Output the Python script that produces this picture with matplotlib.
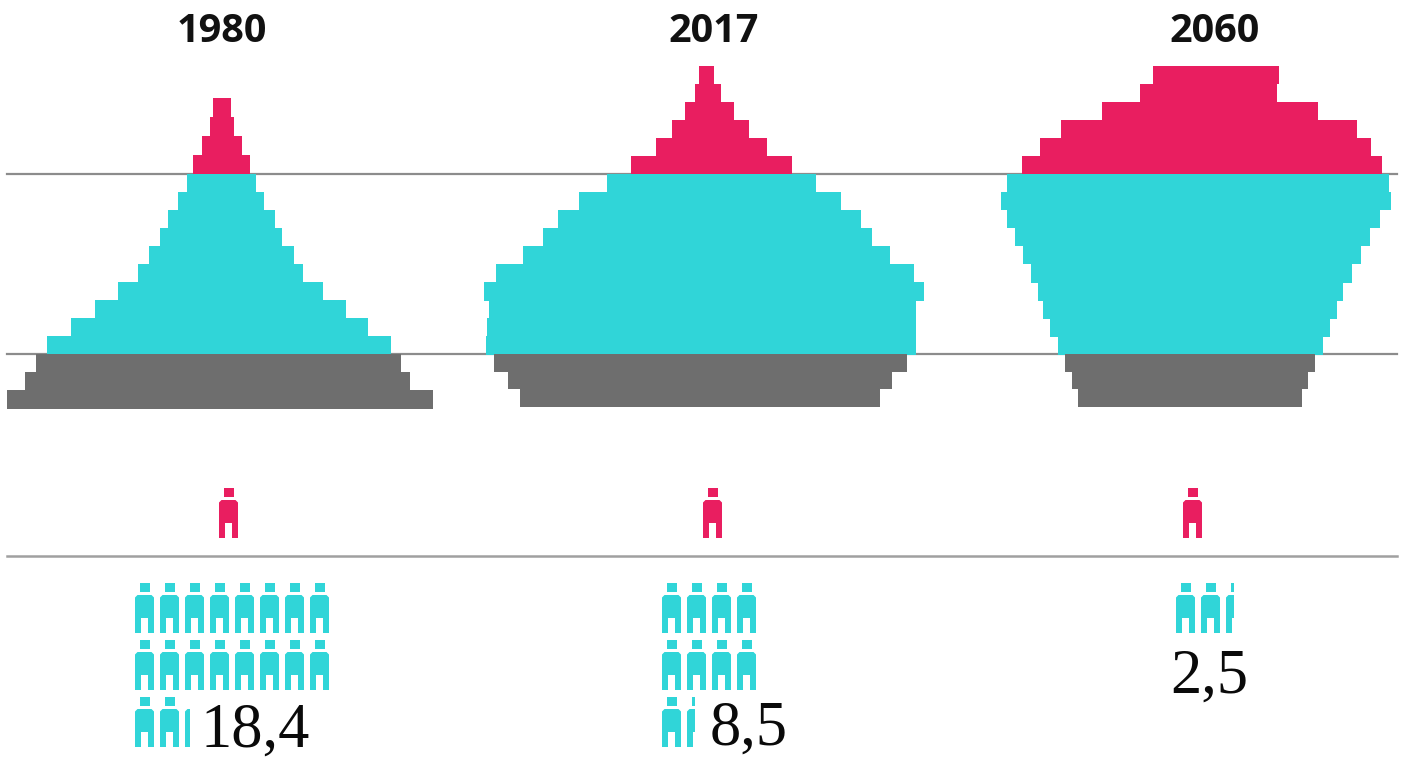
import matplotlib
matplotlib.use("Agg")
import matplotlib.pyplot as plt
from matplotlib.patches import PathPatch, Rectangle
from matplotlib.path import Path

years = ["1980", "2017", "2060"]
ratios = ["18,4", "8,5", "2,5"]

# left / right edges of every age row, top row first
old_left_1980 = [213, 210, 202, 193]
old_right_1980 = [231, 234, 242, 250]
work_left_1980 = [187, 178, 168, 160, 149, 138, 118, 95, 71, 47]
work_right_1980 = [256, 264, 275, 282, 294, 303, 323, 346, 368, 391]
young_left_1980 = [36, 25, 7]
young_right_1980 = [401, 410, 433]

old_left_2017 = [699, 695, 685, 672, 656, 631]
old_right_2017 = [714, 721, 734, 749, 767, 792]
work_left_2017 = [607, 579, 558, 543, 523, 496, 484, 489, 487, 486]
work_right_2017 = [816, 841, 861, 872, 890, 914, 924, 916, 916, 916]
young_left_2017 = [494, 508, 520]
young_right_2017 = [907, 892, 880]

old_left_2060 = [1153, 1140, 1102, 1061, 1040, 1022]
old_right_2060 = [1279, 1277, 1318, 1357, 1371, 1382]
work_left_2060 = [1007, 1001, 1007, 1015, 1023, 1031, 1038, 1043, 1050, 1058]
work_right_2060 = [1389, 1391, 1380, 1370, 1361, 1352, 1343, 1337, 1330, 1323]
young_left_2060 = [1065, 1072, 1078]
young_right_2060 = [1315, 1308, 1302]

# people drawn in the lower part, as counted in the picture
people = [18.27, 9.42, 2.4]
per_row = [8, 4, 3]

PINK = "#E91E60"
TEAL = "#30D5D8"
GRAY = "#6E6E6E"
LINE = "#8C8C8C"
ROW = 18.05
TOP_LINE = 173.8
MID_LINE = 354.2
BOTTOM_LINE = 556

fig = plt.figure(figsize=(14.02, 7.63), dpi=100)
ax = fig.add_axes([0, 0, 1, 1])
ax.set_xlim(0, 1402)
ax.set_ylim(763, 0)
ax.axis("off")


def rows(left, right, first_top, color, row=ROW):
    for i in range(len(left)):
        ax.barh(first_top + i * row, right[i] - left[i], left=left[i],
                height=row + 0.4, align="edge", color=color, linewidth=0, zorder=3)


def person(x, y, color, fraction=1.0):
    # 19 wide, 50 high, x/y is the top left corner
    w = 19
    parts = [
        [(4.5, 0), (14.5, 0), (14.5, 8.5), (4.5, 8.5), (4.5, 0)],
        [(2.5, 12), (16.5, 12), (19, 14.5), (19, 50), (13, 50), (13, 35), (6, 35),
         (6, 50), (0, 50), (0, 14.5), (2.5, 12)],
    ]
    clip = Rectangle((x, y - 2), w * fraction, 55, transform=ax.transData)
    for part in parts:
        verts = [(x + a, y + b) for a, b in part]
        codes = [Path.MOVETO] + [Path.LINETO] * (len(verts) - 2) + [Path.CLOSEPOLY]
        patch = PathPatch(Path(verts, codes), facecolor=color, linewidth=0, zorder=3)
        ax.add_patch(patch)
        patch.set_clip_path(clip)


ax.plot([7, 1397], [TOP_LINE, TOP_LINE], color=LINE, lw=1.6, zorder=1)
ax.plot([7, 1397], [MID_LINE, MID_LINE], color=LINE, lw=1.6, zorder=1)
ax.plot([7, 1397], [BOTTOM_LINE, BOTTOM_LINE], color="#A0A0A0", lw=1.8, zorder=1)

rows(old_left_1980, old_right_1980, TOP_LINE - 4 * 19, PINK, 19)
rows(work_left_1980, work_right_1980, TOP_LINE, TEAL)
rows(young_left_1980, young_right_1980, MID_LINE, GRAY)
rows(old_left_2017, old_right_2017, TOP_LINE - 6 * ROW, PINK)
rows(work_left_2017, work_right_2017, TOP_LINE, TEAL)
rows(young_left_2017, young_right_2017, MID_LINE, GRAY, 17.4)
rows(old_left_2060, old_right_2060, TOP_LINE - 6 * ROW, PINK)
rows(work_left_2060, work_right_2060, TOP_LINE, TEAL)
rows(young_left_2060, young_right_2060, MID_LINE, GRAY, 17.4)

title_x = [222, 714, 1215]
pink_x = [219, 703, 1183]
teal_x = [135, 662, 1176]
label_xy = [(200, 747), (710, 745), (1170, 693)]

for k in range(3):
    ax.text(title_x[k], 31, years[k], ha="center", va="center", fontsize=28.5,
            fontweight="bold", family="Open Sans", color="#111111")
    person(pink_x[k], 488, PINK)

    left = people[k]
    n = 0
    while left > 0:
        col = n % per_row[k]
        line = n // per_row[k]
        person(teal_x[k] + col * 25, 583 + line * 57, TEAL, min(left, 1.0))
        left -= 1
        n += 1

    ax.text(label_xy[k][0], label_xy[k][1], ratios[k], ha="left", va="baseline",
            fontsize=45, family="Liberation Serif", color="#0A0A0A")

fig.savefig("out.png", dpi=100)
